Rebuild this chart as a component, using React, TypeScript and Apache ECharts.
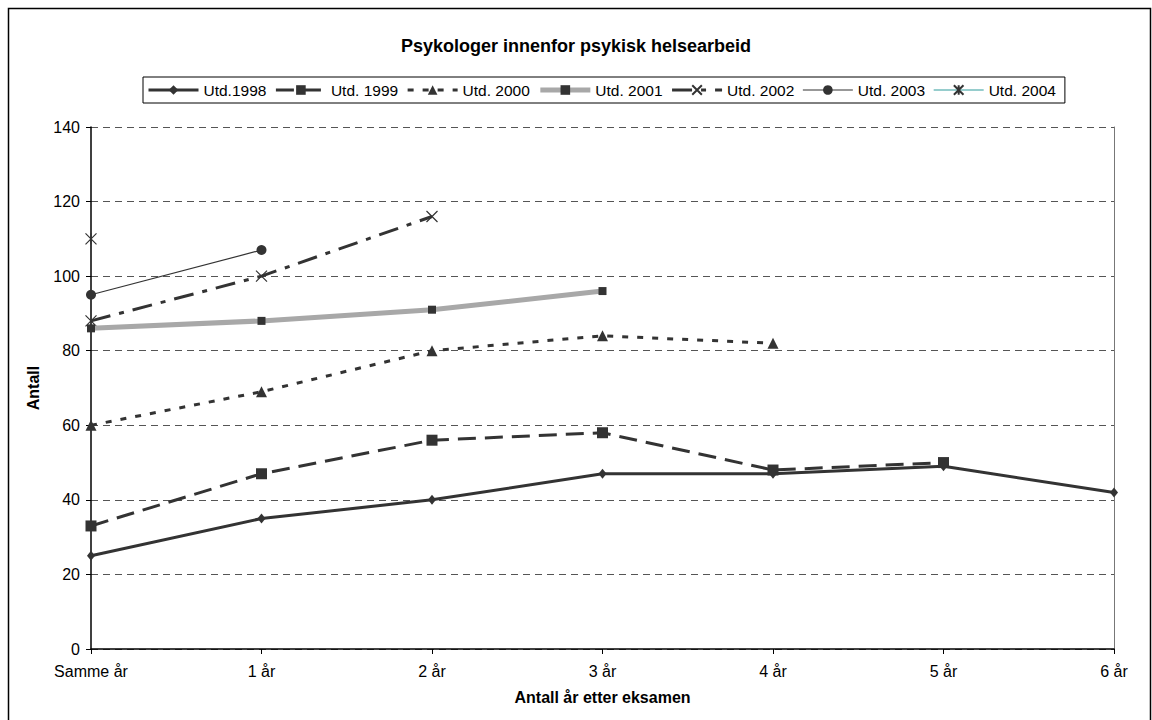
import React, { useEffect, useRef } from "react";
import * as echarts from "echarts";

const categories = ["Samme år", "1 år", "2 år", "3 år", "4 år", "5 år", "6 år"];
const seriesNames = ["Utd.1998", "Utd. 1999", "Utd. 2000", "Utd. 2001", "Utd. 2002", "Utd. 2003", "Utd. 2004"];
const utd1998 = [25, 35, 40, 47, 47, 49, 42];
const utd1999 = [33, 47, 56, 58, 48, 50, null];
const utd2000 = [60, 69, 80, 84, 82, null, null];
const utd2001 = [86, 88, 91, 96, null, null, null];
const utd2002 = [88, 100, 116, null, null, null, null];
const utd2003 = [95, 107, null, null, null, null, null];
const utd2004 = [110, null, null, null, null, null, null];
const yTicks = { min: 0, max: 140, interval: 20 };

const FONT = "Arial, 'Liberation Sans', sans-serif";
const DARK = "#333333";

const X_SYMBOL = "path://M0,0 L10,10 M10,0 L0,10";
const STAR_SYMBOL = "path://M0,0 L10,10 M10,0 L0,10 M5,0 L5,10";

export default function App() {
  const ref = useRef<HTMLDivElement>(null);
  useEffect(() => {
    if (!ref.current) return;
    const chart = echarts.init(ref.current, undefined, { renderer: "svg" });
    const mk = (name: string, data: (number | null)[], extra: any) => ({
      name,
      type: "line",
      data,
      connectNulls: false,
      ...extra,
    });
    chart.setOption({
      animation: false,
      backgroundColor: "#ffffff",
      title: {
        text: "Psykologer innenfor psykisk helsearbeid",
        left: "center",
        top: 32,
        textStyle: { fontFamily: FONT, fontSize: 18, fontWeight: "bold", color: "#000" },
      },
      legend: {
        left: 143,
        top: 77,
        padding: [5, 9, 5, 4],
        itemGap: 8,
        itemWidth: 50,
        itemHeight: 12,
        borderColor: "#000",
        borderWidth: 1,
        lineStyle: { width: "inherit" },
        textStyle: { fontFamily: FONT, fontSize: 15.5, color: "#000" },
        data: seriesNames,
      },
      graphic: [
        {
          type: "rect",
          shape: { x: 8.5, y: 8.5, width: 1142, height: 800 },
          style: { fill: "none", stroke: "#000", lineWidth: 1.5 },
          silent: true,
        },
      ],
      grid: { left: 91, right: 38, top: 127, bottom: 71 },
      xAxis: {
        type: "category",
        data: categories,
        boundaryGap: false,
        name: "Antall år etter eksamen",
        nameLocation: "middle",
        nameGap: 40,
        nameTextStyle: { fontFamily: FONT, fontSize: 16, fontWeight: "bold", color: "#000" },
        axisLine: { lineStyle: { color: "#000", width: 1.5 } },
        axisTick: { show: true, length: 5, lineStyle: { color: "#000" } },
        axisLabel: { fontFamily: FONT, fontSize: 16, color: "#000", margin: 14 },
        splitLine: { show: false },
      },
      yAxis: [
        {
          type: "value",
          min: yTicks.min,
          max: yTicks.max,
          interval: yTicks.interval,
          name: "Antall",
          nameLocation: "middle",
          nameGap: 50,
          nameRotate: 90,
          nameTextStyle: { fontFamily: FONT, fontSize: 16, fontWeight: "bold", color: "#000" },
          axisLine: { show: true, lineStyle: { color: "#000", width: 1.5 } },
          axisTick: { show: true, length: 5, lineStyle: { color: "#000" } },
          axisLabel: { fontFamily: FONT, fontSize: 16, color: "#000", margin: 11 },
          splitLine: { show: true, lineStyle: { color: "#555", type: [7, 5], width: 1 } },
        },
        {
          type: "value",
          position: "right",
          min: yTicks.min,
          max: yTicks.max,
          interval: yTicks.interval,
          axisLine: { show: true, lineStyle: { color: "#777", width: 1 } },
          axisTick: { show: false },
          axisLabel: { show: false },
          splitLine: { show: false },
        },
      ],
      series: [
        mk(seriesNames[0], utd1998, {
          symbol: "diamond",
          symbolSize: [8, 10],
          lineStyle: { color: DARK, width: 3 },
          itemStyle: { color: DARK },
          z: 7,
        }),
        mk(seriesNames[1], utd1999, {
          symbol: "rect",
          symbolSize: 11,
          lineStyle: { color: DARK, width: 3, type: [18, 9] },
          itemStyle: { color: DARK },
          z: 6,
        }),
        mk(seriesNames[2], utd2000, {
          symbol: "triangle",
          symbolSize: 11,
          lineStyle: { color: DARK, width: 3, type: [6, 9] },
          itemStyle: { color: DARK },
          z: 5,
        }),
        mk(seriesNames[3], utd2001, {
          symbol: "rect",
          symbolSize: 8,
          lineStyle: { color: "#a8a8a8", width: 5 },
          itemStyle: { color: DARK },
          z: 4,
        }),
        mk(seriesNames[4], utd2002, {
          symbol: X_SYMBOL,
          symbolSize: 11,
          lineStyle: { color: DARK, width: 3, type: [20, 9, 5, 9] },
          itemStyle: { color: "none", borderColor: DARK, borderWidth: 1.2 },
          z: 3,
        }),
        mk(seriesNames[5], utd2003, {
          symbol: "circle",
          symbolSize: 10,
          lineStyle: { color: DARK, width: 1.2 },
          itemStyle: { color: DARK },
          z: 2,
        }),
        mk(seriesNames[6], utd2004, {
          symbol: STAR_SYMBOL,
          symbolSize: 11,
          lineStyle: { color: "#2f9c9c", width: 1.2 },
          itemStyle: { color: "none", borderColor: DARK, borderWidth: 1.2 },
          z: 2,
        }),
      ],
    });
    return () => chart.dispose();
  }, []);
  return <div ref={ref} style={{ position: "fixed", left: 0, top: 0, width: 1152, height: 720 }} />;
}
